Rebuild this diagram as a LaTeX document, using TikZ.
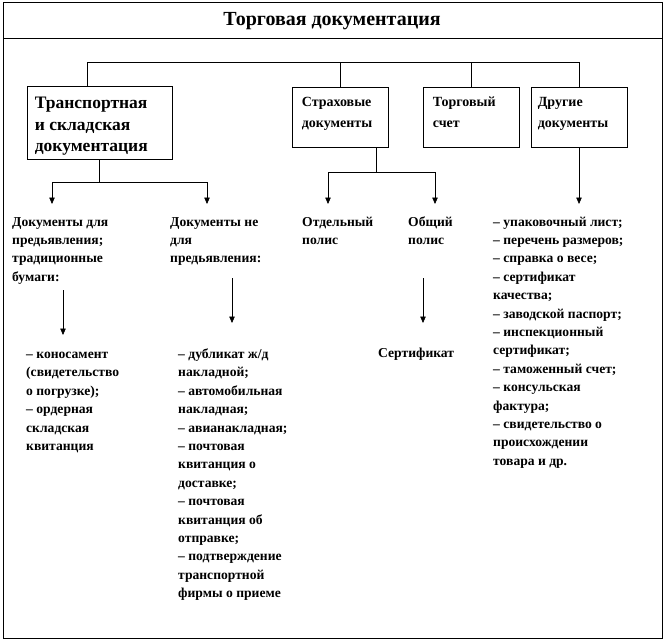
\documentclass[tikz,border=0pt]{standalone}
\usepackage{fontspec}
\setmainfont{Liberation Serif}
\usetikzlibrary{arrows.meta,shadows}

\begin{document}
\begin{tikzpicture}[x=1pt,y=-1pt,
  frame/.style={line width=0.8pt},
  box/.style={draw,line width=0.7pt,fill=white,inner sep=0pt,
    drop shadow={shadow xshift=1pt,shadow yshift=-1pt,fill=gray!60,opacity=1}},
  boxtxt/.style={anchor=base west,align=left,inner sep=0pt,
    font=\fontsize{14}{21}\selectfont\bfseries},
  txt/.style={anchor=base west,align=left,inner sep=0pt,
    font=\fontsize{13.6}{18.4}\selectfont\bfseries},
  link/.style={line width=0.7pt},
  arr/.style={line width=0.7pt,-{Triangle[length=6.5pt,width=5.5pt]}}]
\useasboundingbox (0,0) rectangle (666,640);

% frame and title
\draw[frame] (3,2) rectangle (662,638);
\draw[frame] (3,38) -- (662,38);
\node[font=\fontsize{20}{24}\selectfont\bfseries] (title) at (332,21) {Торговая документация};

% top level boxes
\node[box,minimum width=145,minimum height=73] (trans) at (99.5,122.5) {};
\node[box,minimum width=96,minimum height=60] (ins) at (340,117) {};
\node[box,minimum width=96,minimum height=60] (inv) at (471,117) {};
\node[box,minimum width=96,minimum height=60] (other) at (579,117) {};

% base of a multi-line node = baseline of its last line
\node[boxtxt,font=\fontsize{17.5}{21.5}\selectfont\bfseries] (transtxt)
  at ([shift={(8,{23+2*21.5})}]trans.north west) {Транспортная\\и складская\\документация};
\node[boxtxt] (instxt) at ([shift={(10,40.5)}]ins.north west) {Страховые\\документы};
\node[boxtxt] (invtxt) at ([shift={(10,40.5)}]inv.north west) {Торговый\\счет};
\node[boxtxt] (othertxt) at ([shift={(7,40.5)}]other.north west) {Другие\\документы};

% bus line
\coordinate (busL) at (87,62);
\coordinate (busR) at (579,62);
\draw[link] (trans.north -| busL) -- (busL) -- (busR) -- (other.north);
\draw[link] (ins.north) -- (ins.north |- busL);
\draw[link] (inv.north) -- (inv.north |- busL);

% second level
\coordinate (tsplit) at ([shift={(0,23)}]trans.south);
\coordinate (t1) at (52,204);
\coordinate (t2) at (207,204);
\draw[link] (trans.south) -- (tsplit);
\draw[arr] (tsplit) -| (t1);
\draw[arr] (tsplit) -| (t2);

\coordinate (isplit) at (376,172);
\coordinate (p1) at (328,204);
\coordinate (p2) at (435,204);
\draw[link] (ins.south -| isplit) -- (isplit);
\draw[arr] (isplit) -| (p1);
\draw[arr] (isplit) -| (p2);

\coordinate (o1) at (579,204);
\draw[arr] (other.south) -- (o1);

\node[txt] (doc1) at (12,{226+3*18.4}) {Документы для\\предьявления;\\традиционные\\бумаги:};
\node[txt] (doc2) at (170,{226+2*18.4}) {Документы не\\для\\предьявления:};
\node[txt] (pol1) at (302,{226+18.4}) {Отдельный\\полис};
\node[txt] (pol2) at (408,{226+18.4}) {Общий\\полис};
\node[txt] (olist) at (493,{226+13*18.4}) {– упаковочный лист;\\– перечень размеров;\\– справка о весе;\\– сертификат\\качества;\\– заводской паспорт;\\– инспекционный\\сертификат;\\– таможенный счет;\\– консульская\\фактура;\\– свидетельство о\\происхождении\\товара и др.};

% third level
\coordinate (a1s) at (63,290);
\coordinate (a1e) at (63,335);
\coordinate (a2s) at (232,278);
\coordinate (a2e) at (232,323);
\coordinate (a3s) at (423,278);
\coordinate (a3e) at (423,323);
\draw[arr] (a1s) -- (a1e);
\draw[arr] (a2s) -- (a2e);
\draw[arr] (a3s) -- (a3e);

\node[txt] (list1) at (26,{358.5+5*18.4}) {– коносамент\\(свидетельство\\о погрузке);\\– ордерная\\складская\\квитанция};
\node[txt] (list2) at (178,{358.5+13*18.4}) {– дубликат ж/д\\накладной;\\– автомобильная\\накладная;\\– авианакладная;\\– почтовая\\квитанция о\\доставке;\\– почтовая\\квитанция об\\отправке;\\– подтверждение\\транспортной\\фирмы о приеме};
\node[txt] (cert) at (378,357.5) {Сертификат};
\end{tikzpicture}
\end{document}
